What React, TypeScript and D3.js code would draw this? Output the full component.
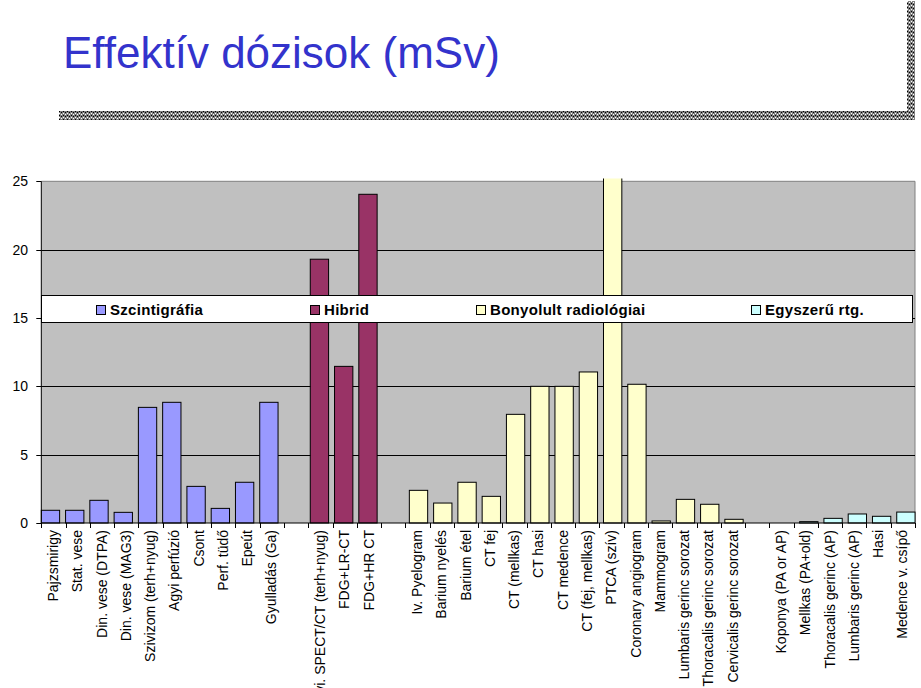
import React from "react";
import * as d3 from "d3";

const seriesNames = ["Szcintigráfia", "Hibrid", "Bonyolult radiológiai", "Egyszerű rtg."];
const seriesColors = ["#9999FF", "#993366", "#FFFFCC", "#CCFFFF"];

const scintLabels = ["Pajzsmirigy", "Stat. vese", "Din. vese (DTPA)", "Din. vese (MAG3)", "Szivizom (terh+nyug)", "Agyi perfúzió", "Csont", "Perf. tüdő", "Epeút", "Gyulladás (Ga)"];
const scintValues = [0.93, 0.93, 1.66, 0.78, 8.46, 8.83, 2.68, 1.07, 2.98, 8.83];

const hibridLabels = ["Szivi. SPECT/CT (terh+nyug)", "FDG+LR-CT", "FDG+HR CT"];
const hibridValues = [19.3, 11.46, 24.05];

const bonyLabels = ["Iv. Pyelogram", "Barium nyelés", "Barium étel", "CT fej", "CT (mellkas)", "CT hasi", "CT medence", "CT (fej, mellkas)", "PTCA (szív)", "Coronary angiogram", "Mammogram", "Lumbaris gerinc sorozat", "Thoracalis gerinc sorozat", "Cervicalis gerinc sorozat"];
const bonyValues = [2.39, 1.46, 2.98, 1.95, 7.95, 10.0, 10.0, 11.05, 26.0, 10.15, 0.15, 1.73, 1.37, 0.27];

const egyLabels = ["Koponya (PA or AP)", "Mellkas (PA+old)", "Thoracalis gerinc (AP)", "Lumbaris gerinc (AP)", "Hasi", "Medence v. csípő"];
const egyValues = [0, 0.1, 0.34, 0.66, 0.49, 0.8];

const yTicks = [0, 5, 10, 15, 20, 25];

type Cat = { label: string; value: number | null; series: number };

function buildCats(): Cat[] {
  const out: Cat[] = [];
  const groups: [string[], number[]][] = [
    [scintLabels, scintValues],
    [hibridLabels, hibridValues],
    [bonyLabels, bonyValues],
    [egyLabels, egyValues],
  ];
  groups.forEach(([labels, values], gi) => {
    if (gi > 0) out.push({ label: "", value: null, series: gi });
    labels.forEach((l, i) => out.push({ label: l, value: values[i], series: gi }));
  });
  return out;
}

export default function App() {
  const cats = buildCats();
  const left = 41.3;
  const right = 915;
  const top = 181.3;
  const bottom = 523;
  const x = d3.scaleBand<number>().domain(cats.map((_, i) => i)).range([left, right]).padding(0);
  const y = d3.scaleLinear().domain([0, 25]).range([bottom, top]);
  const bw = x.bandwidth();
  const barW = bw * 0.755;
  const font = "'Liberation Sans', Arial, Helvetica, sans-serif";

  const legendX = [96, 310, 476, 751];

  return (
    <svg width={921} height={688} style={{ position: "absolute", left: 0, top: 0, background: "#fff" }} fontFamily={font}>
      <defs>
        <pattern id="chk" width="4" height="4" patternUnits="userSpaceOnUse">
          <rect width="4" height="4" fill="#808080" />
          <rect x="1" y="0" width="1" height="1" fill="#000" />
          <rect x="3" y="1" width="1" height="1" fill="#fff" />
          <rect x="1" y="2" width="1" height="1" fill="#fff" />
          <rect x="3" y="3" width="1" height="1" fill="#000" />
        </pattern>
        <clipPath id="barClip">
          <rect x={0} y={178.5} width={921} height={400} />
        </clipPath>
      </defs>
      {/* Title */}
      <text x={63} y={68} fontSize={44} fill="#3333CC">Effektív dózisok (mSv)</text>
      <rect x={59} y={111} width={856} height={9} fill="url(#chk)" />
      <rect x={907} y={1} width={8} height={119} fill="url(#chk)" />

      {/* Plot area */}
      <rect x={left} y={top} width={right - left} height={bottom - top} fill="#C0C0C0" />
      <line x1={left} x2={right} y1={top} y2={top} stroke="#808080" />
      <line x1={right} x2={right} y1={top} y2={bottom} stroke="#808080" />
      {yTicks.filter((t) => t > 0 && t < 25).map((t) => (
        <line key={t} x1={left} x2={right} y1={Math.round(y(t)) + 0.5} y2={Math.round(y(t)) + 0.5} stroke="#000" />
      ))}

      {/* Bars */}
      <g clipPath="url(#barClip)">
        {cats.map((c, i) =>
          c.value !== null && c.value > 0 ? (
            <rect
              key={i}
              x={x(i)! + c.series * 2}
              y={y(c.value)}
              width={barW}
              height={bottom - y(c.value)}
              fill={seriesColors[c.series]}
              stroke="#000"
              strokeWidth={1}
            />
          ) : null
        )}
      </g>

      {/* Axes */}
      <line x1={left} x2={left} y1={top} y2={bottom} stroke="#000" />
      <line x1={left} x2={right} y1={bottom} y2={bottom} stroke="#000" />
      {yTicks.map((t) => (
        <g key={t}>
          <line x1={left - 5} x2={left} y1={Math.round(y(t)) + 0.5} y2={Math.round(y(t)) + 0.5} stroke="#000" />
          <text x={28} y={y(t)} dy="0.36em" textAnchor="end" fontSize={14} fill="#000">{t}</text>
        </g>
      ))}
      {d3.range(cats.length + 1).map((i) => {
        const xx = Math.round(left + i * bw) + 0.5;
        return <line key={i} x1={xx} x2={xx} y1={bottom} y2={bottom + 5} stroke="#000" />;
      })}
      {cats.map((c, i) => (
        <text
          key={i}
          transform={`translate(${x(i)! + bw / 2},${530}) rotate(-90)`}
          dy="0.33em"
          textAnchor="end"
          fontSize={14}
          fill="#000"
        >
          {c.label}
        </text>
      ))}

      {/* Legend */}
      <rect x={41.5} y={295.5} width={871} height={27} fill="#fff" stroke="#000" />
      {seriesNames.map((s, i) => (
        <g key={s}>
          <rect x={legendX[i] + 0.5} y={305.5} width={9} height={9} fill={seriesColors[i]} stroke="#000" />
          <text x={legendX[i] + 14} y={314.5} fontSize={15} fontWeight="bold" fill="#000" letterSpacing={0.3}>{s}</text>
        </g>
      ))}
    </svg>
  );
}
